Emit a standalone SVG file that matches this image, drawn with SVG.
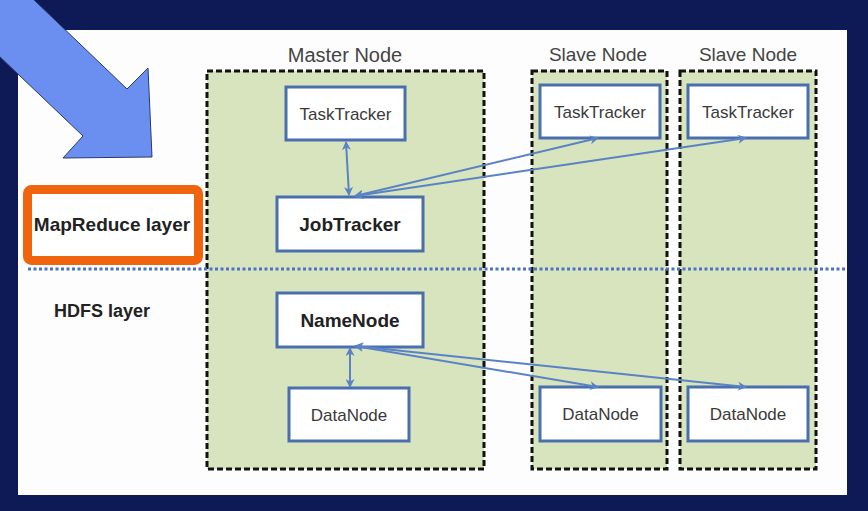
<svg xmlns="http://www.w3.org/2000/svg" width="868" height="511" viewBox="0 0 868 511">
<defs>
<style>
.cont{fill:#d7e4bd;stroke:#111;stroke-width:3;stroke-dasharray:6 3}
.box{fill:#fff;stroke:#4a6fae;stroke-width:3}
.t{font-family:"Liberation Sans",Arial,sans-serif;fill:#3a3a3a;text-anchor:middle;dominant-baseline:central}
.n{font-size:17px}
.b{font-size:19px;font-weight:bold;fill:#222}
.h{font-size:19px;fill:#444}
.conn{stroke:#5a83c6;stroke-width:2;fill:none;marker-start:url(#ah);marker-end:url(#ah)}
</style>
<marker id="ah" viewBox="0 0 10 10" refX="9" refY="5" markerWidth="10" markerHeight="9" markerUnits="userSpaceOnUse" orient="auto-start-reverse">
<path d="M0,0 L10,5 L0,10 L3,5 Z" fill="#5a83c6"/>
</marker>
</defs>
<rect width="868" height="511" fill="#0e1a55"/>
<rect x="18" y="30" width="829" height="465" fill="#fdfdfd"/>
<g id="big-arrow">
<polygon points="32,-2 127,89 148,68 152,157 63,158 83,136 -2,55 -2,-2" fill="#6a8ff0" stroke="#2a3a6a" stroke-width="1"/>
</g>
<g id="mapreduce-layer">
<rect x="27.5" y="189.5" width="171" height="71" rx="4" fill="#fff" stroke="#ef640c" stroke-width="9"/>
<text class="t b" x="112" y="224">MapReduce layer</text>
</g>
<g id="hdfs-layer">
<text class="t b" x="102" y="311" style="font-size:18px">HDFS layer</text>
</g>
<g id="master-node">
<rect class="cont" x="207" y="71" width="277" height="398"/>
<text class="t h" x="345" y="55" style="font-size:20px">Master Node</text>
</g>
<g id="slave-node-1">
<rect class="cont" x="532" y="71" width="135" height="398"/>
<text class="t h" x="598" y="54">Slave Node</text>
</g>
<g id="slave-node-2">
<rect class="cont" x="680" y="71" width="136" height="398"/>
<text class="t h" x="748" y="54">Slave Node</text>
</g>
<line x1="28" y1="269" x2="847" y2="269" stroke="#4a74c2" stroke-width="3" stroke-dasharray="3 2.5"/>
<g id="master-tasktracker">
<rect class="box" x="286" y="87" width="119" height="53"/>
<text class="t n" x="345.5" y="114">TaskTracker</text>
</g>
<g id="jobtracker">
<rect class="box" x="277" y="197" width="146" height="54"/>
<text class="t b" x="350" y="224">JobTracker</text>
</g>
<g id="namenode">
<rect class="box" x="277" y="293" width="146" height="54"/>
<text class="t b" x="350" y="320">NameNode</text>
</g>
<g id="master-datanode">
<rect class="box" x="289" y="388" width="120" height="53"/>
<text class="t n" x="349" y="415">DataNode</text>
</g>
<g id="slave1-tasktracker">
<rect class="box" x="540" y="85" width="120" height="53"/>
<text class="t n" x="600" y="112">TaskTracker</text>
</g>
<g id="slave2-tasktracker">
<rect class="box" x="688" y="85" width="120" height="53"/>
<text class="t n" x="748" y="112">TaskTracker</text>
</g>
<g id="slave1-datanode">
<rect class="box" x="540" y="387" width="121" height="54"/>
<text class="t n" x="600.5" y="414">DataNode</text>
</g>
<g id="slave2-datanode">
<rect class="box" x="688" y="387" width="120" height="54"/>
<text class="t n" x="748" y="414">DataNode</text>
</g>
<g id="connectors">
<line class="conn" x1="346" y1="142" x2="349" y2="195"/>
<line class="conn" x1="355" y1="196" x2="598" y2="138"/>
<line class="conn" x1="355" y1="196" x2="746" y2="138"/>
<line class="conn" x1="350" y1="348" x2="350" y2="387"/>
<line class="conn" x1="355" y1="346" x2="598" y2="387"/>
<line class="conn" x1="355" y1="346" x2="746" y2="387"/>
</g>
</svg>
